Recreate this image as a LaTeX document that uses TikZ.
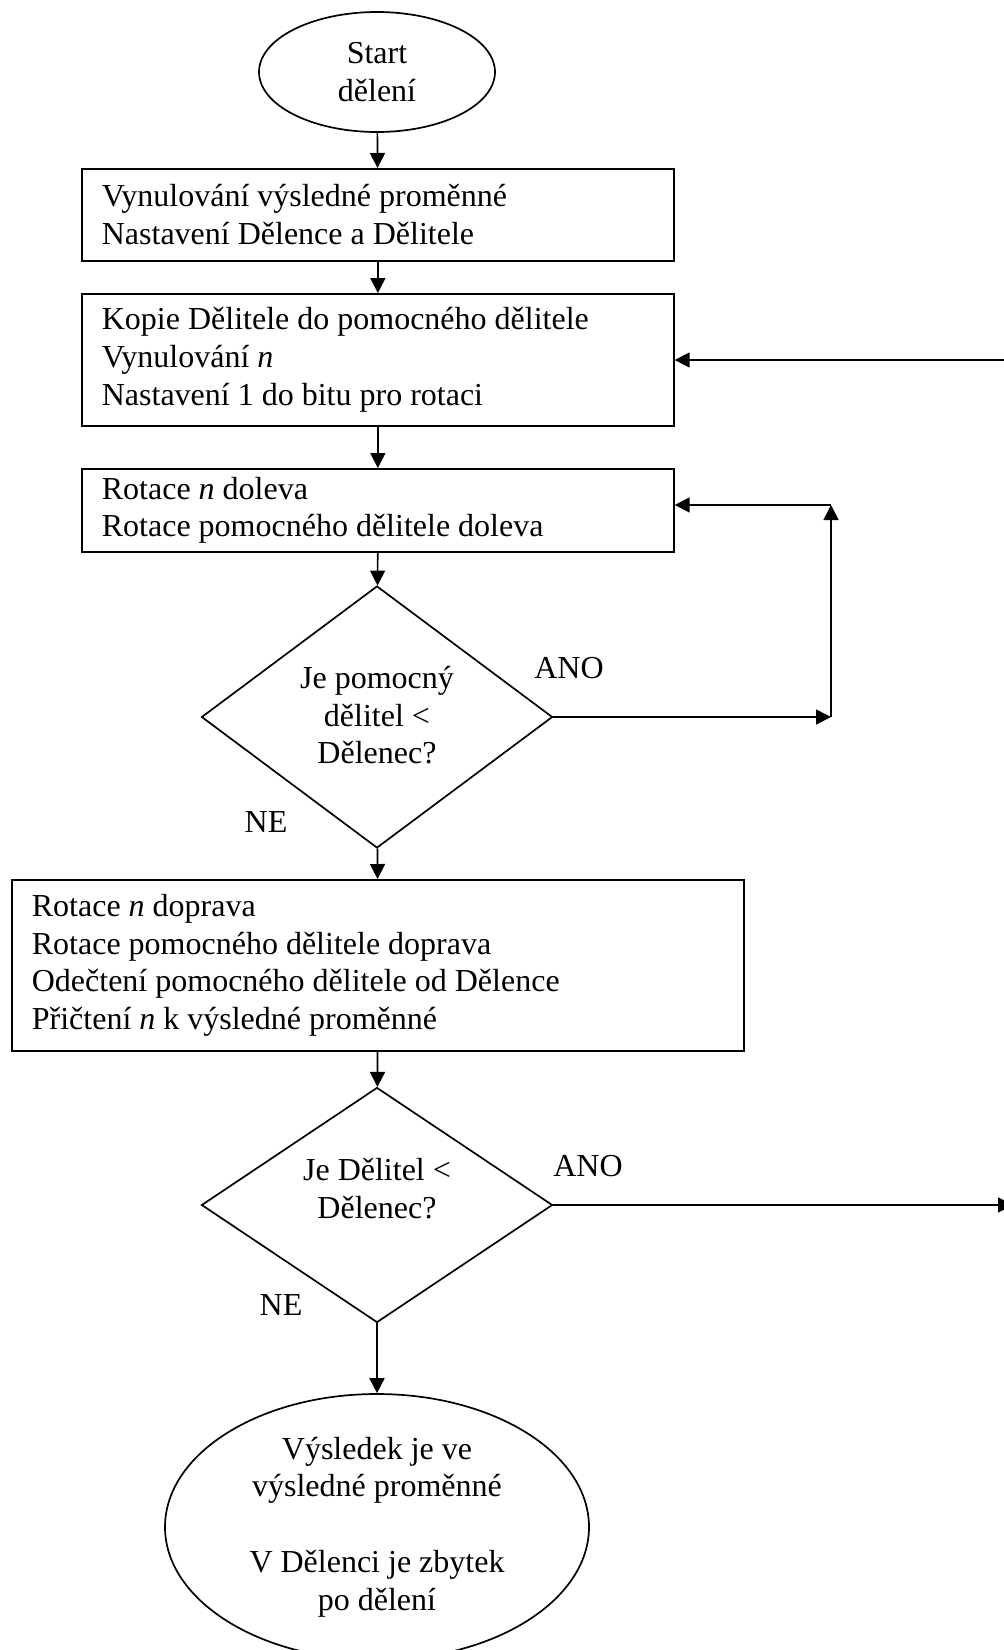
\documentclass[tikz,border=0pt]{standalone}
\usepackage{fontspec}
\setmainfont{Liberation Serif}
\usetikzlibrary{shapes.geometric,arrows.meta}

\begin{document}
\begin{tikzpicture}[x=1pt,y=-1pt,line width=1.7pt,
  every node/.style={font=\fontsize{32}{37.8}\selectfont},
  proc/.style={draw,rectangle,align=flush left,anchor=north west,inner xsep=20pt,inner ysep=0pt},
  decide/.style={draw,diamond,align=flush center,inner sep=0pt,aspect=1.34},
  term/.style={draw,ellipse,align=flush center,inner sep=0pt},
  lbl/.style={inner sep=0pt},
  flow/.style={-{Triangle[length=15pt,width=15pt]}}]

\useasboundingbox (0,0) rectangle (1004,1650);
\clip (0,0) rectangle (1004,1650);
\fill[white] (0,0) rectangle (1004,1650);

% steps of the division routine
\node[term,minimum width=236pt,minimum height=120pt] (start) at (377,72) {Start\\dělení};

\node[proc,text width=552pt,minimum height=92pt] (init) at (81,168)
  {Vynulování výsledné proměnné\\Nastavení Dělence a Dělitele};

\node[proc,text width=552pt,minimum height=132pt] (copy) at (81,293)
  {Kopie Dělitele do pomocného dělitele\\Vynulování \textit{n}\\Nastavení 1 do bitu pro rotaci};

\node[proc,text width=552pt,minimum height=83pt] (rotl) at (81,468)
  {Rotace \textit{n} doleva\\Rotace pomocného dělitele doleva};

\node[decide,minimum width=351pt,minimum height=262pt,text depth=4pt] (cmp1) at (377,717)
  {Je pomocný\\dělitel <\\Dělenec?};

\node[proc,text width=692pt,minimum height=171pt] (rotr) at (11,879)
  {Rotace \textit{n} doprava\\Rotace pomocného dělitele doprava\\Odečtení pomocného dělitele od Dělence\\Přičtení \textit{n} k výsledné proměnné};

\node[decide,minimum width=351pt,minimum height=235pt,text depth=32.5pt] (cmp2) at (377,1205)
  {Je Dělitel <\\Dělenec?};

\node[term,minimum width=424pt,minimum height=266pt] (done) at (377,1527)
  {Výsledek je ve\\výsledné proměnné\\[37.8pt]V Dělenci je zbytek\\po dělení};

% branch labels
\node[lbl] (ano1) at (569,668) {ANO};
\node[lbl] (ne1) at (266,822) {NE};
\node[lbl] (ano2) at (588,1166) {ANO};
\node[lbl] (ne2) at (281,1305) {NE};

% loop and exit points
\coordinate (loopA) at (831,717);
\coordinate (loopB) at (831,505);
\coordinate (backIn) at (1010,360);
\coordinate (exitR) at (1013,1205);

% main flow
\draw[flow] (start) -- (init);
\draw[flow] (init) -- (copy);
\draw[flow] (copy) -- (rotl);
\draw[flow] (rotl) -- (cmp1);
\draw[flow] (cmp1) -- (rotr);
\draw[flow] (rotr) -- (cmp2);
\draw[flow] (cmp2) -- (done);

% inner loop back to the left rotation
\draw[flow] (cmp1.east) -- (loopA);
\draw[flow] (loopA) -- (loopB);
\draw[flow] (loopB) -- (loopB -| rotl.east);

% outer loop
\draw[flow] (cmp2.east) -- (cmp2.east -| exitR);
\draw[flow] (backIn) -- (backIn -| copy.east);
\end{tikzpicture}
\end{document}
